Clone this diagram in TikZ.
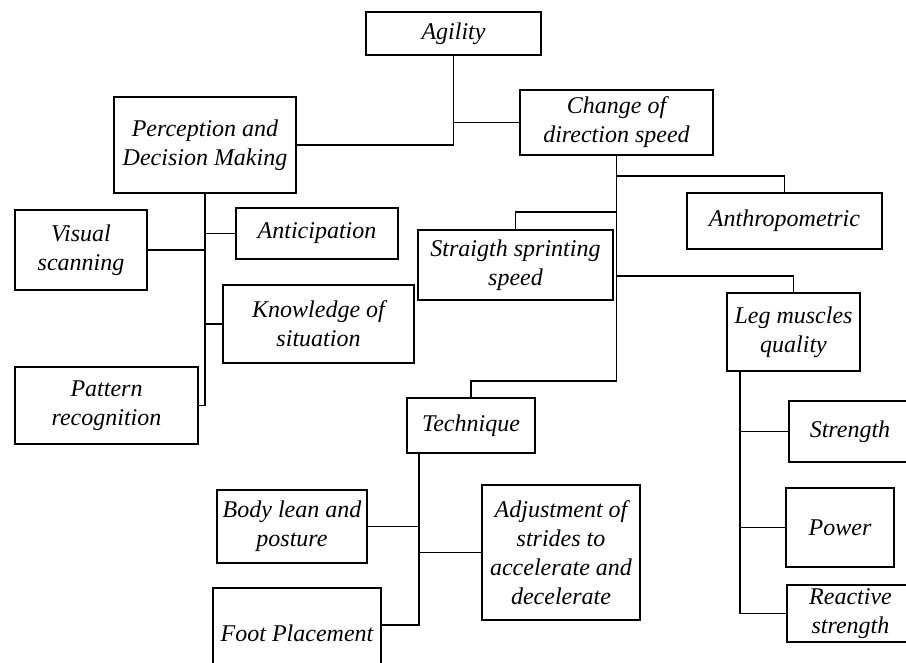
\documentclass[tikz,border=0pt]{standalone}
\usepackage{fontspec}
\setmainfont{Liberation Serif}

\begin{document}
\begin{tikzpicture}[x=1pt, y=-1pt, line width=1.6pt,
        box/.style 2 args={draw, align=center, inner sep=0pt, minimum width=#1pt, minimum height=#2pt,
            font=\fontsize{24}{29}\selectfont\itshape}]
            \path[use as bounding box, clip] (0,0) rectangle (906,663);

            \node[box={175}{43}] (Ag) at (453.5, 33.5) {Agility};
            \node[box={182}{96}] (Pd) at (205, 145) {Perception and\\Decision Making};
            \node[box={193}{65}] (Cd) at (616.5, 122.5) {Change of\\direction speed};

            \node[box={162}{51}] (Ac) at (317, 233.5) {Anticipation};
            \node[box={132}{80}] (Vs) at (81, 250) {Visual\\scanning};
            \node[box={191}{78}] (Ks) at (318.5, 324) {Knowledge of\\situation};
            \node[box={183}{77}] (Pr) at (106.5, 405.5) {Pattern\\recognition};

            \node[box={195}{56}] (An) at (784.5, 221) {Anthropometric};
            \node[box={195}{70}] (Ss) at (515.5, 265) {Straigth sprinting\\speed};
            \node[box={133}{78}] (Lm) at (793.5, 332) {Leg muscles\\quality};
            \node[box={128}{55}] (Te) at (471, 425.5) {Technique};

            \node[box={150}{73}] (Bl) at (292, 526.5) {Body lean and\\posture};
            \node[box={158}{135}] (As) at (561, 552.5) {Adjustment of\\strides to\\accelerate and\\decelerate};
            \node[box={168}{90}] (Fp) at (297, 633) {Foot Placement};

            \node[box={122}{61}] (St) at (850, 431.5) {Strength};
            \node[box={108}{79}] (Po) at (840, 527.5) {Power};
            \node[box={127}{57}] (Rs) at (850.5, 613.5) {Reactive\\strength};

            \draw (Ag) |- (Pd);
            \draw (Ag) |- (Cd);

            \draw (Pd) |- (Ac);
            \draw (Pd) |- (Vs);
            \draw (Pd) |- (Ks);
            \draw (Pd) |- (Pr);

            \draw (Cd.south) -- ++(0, 20) -| (An);
            \draw (Cd.south) -- ++(0, 56) -| (Ss);
            \draw (Cd.south) -- ++(0, 120) -| (Lm);
            \draw (Cd.south) -- ++(0, 225) -| (Te);

            \draw ([xshift=13pt]Te.south west) |- (Bl);
            \draw ([xshift=13pt]Te.south west) |- (As);
            \draw ([xshift=13pt]Te.south west) |- ([yshift=8pt]Fp.east);

            \draw ([xshift=14pt]Lm.south west) |- (St);
            \draw ([xshift=14pt]Lm.south west) |- (Po);
            \draw ([xshift=14pt]Lm.south west) |- (Rs);
        \end{tikzpicture}
\end{document}
